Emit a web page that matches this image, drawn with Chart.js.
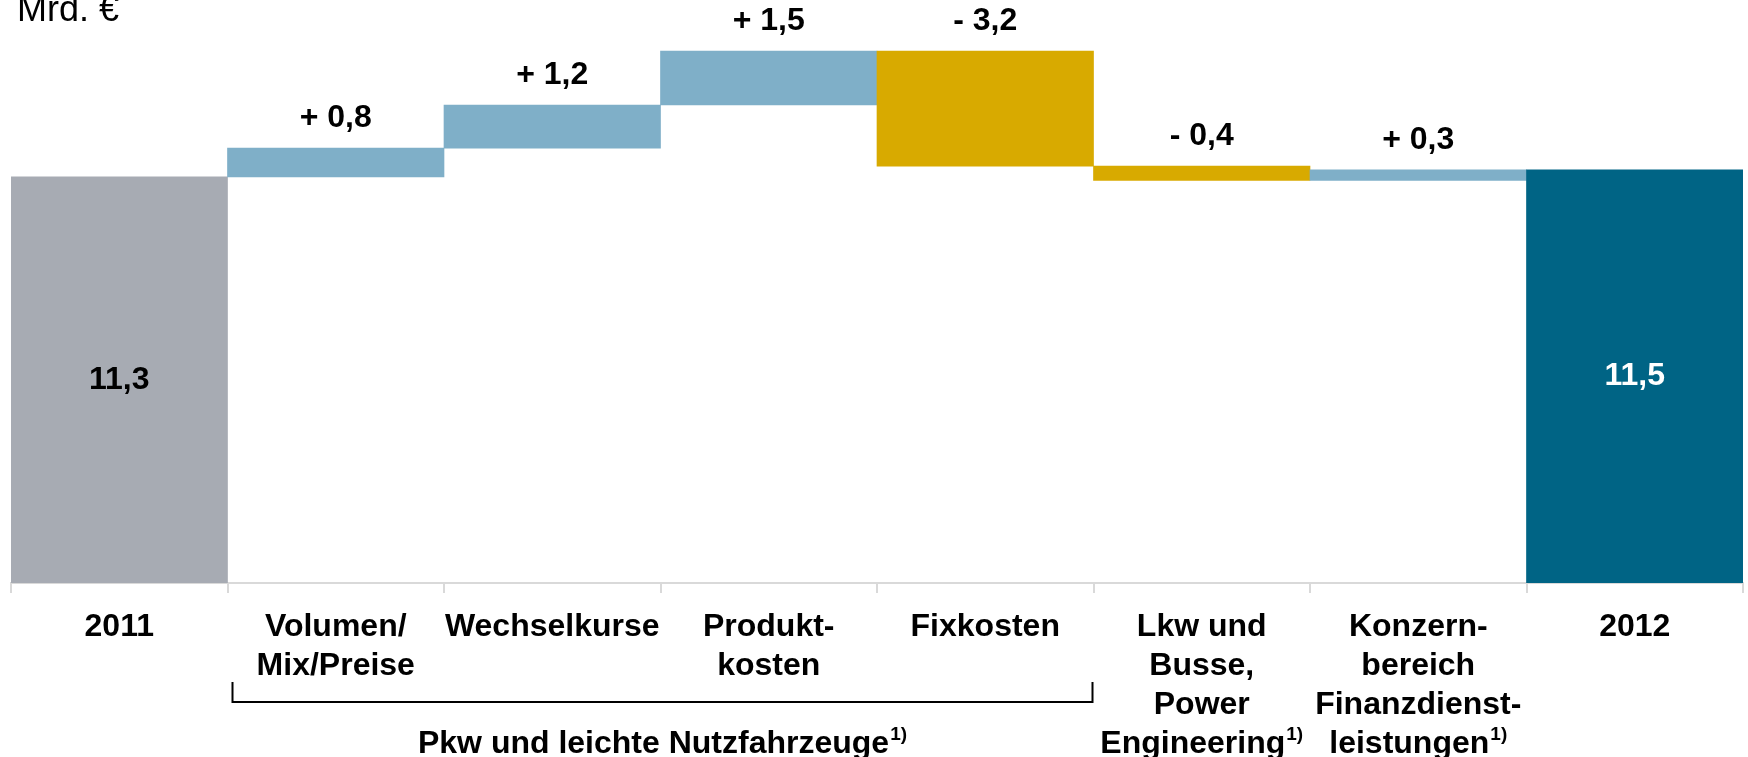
<!DOCTYPE html>
<html>
<head>
<meta charset="utf-8">
<script src="https://cdn.jsdelivr.net/npm/chart.js@4.4.1/dist/chart.umd.min.js"></script>
<style>
    html, body { margin: 0; padding: 0; background: #ffffff; }
    #wrap { width: 1748px; height: 757px; }
</style>
</head>
<body>
<div id="wrap"><canvas id="bridge-chart" width="1748" height="757"></canvas></div>
<script>
// categories (lines of each label; "^" marks a superscript)
const categories = [
    ['2011'],
    ['Volumen/', 'Mix/Preise'],
    ['Wechselkurse'],
    ['Produkt-', 'kosten'],
    ['Fixkosten'],
    ['Lkw und', 'Busse,', 'Power', 'Engineering^1)'],
    ['Konzern-', 'bereich', 'Finanzdienst-', 'leistungen^1)'],
    ['2012']
];
// value of each step in Mrd. €; first and last are totals
const values = [11.3, 0.8, 1.2, 1.5, -3.2, -0.4, 0.3, 11.5];
const isTotal = [true, false, false, false, false, false, false, true];
const groupLabel = 'Pkw und leichte Nutzfahrzeuge^1)';
const groupRange = [1, 4];
const unitLabel = 'Mrd. €';
const yMax = 16;

const FONT = "'Liberation Sans', Arial, sans-serif";
const colors = {
    start: '#a7abb3',
    end: '#006485',
    up: '#7fafc8',
    down: '#d8aa00'
};

// floating bars from running total
const ranges = [];
let running = 0;
values.forEach((v, i) => {
    if (isTotal[i]) {
        ranges.push([0, v]);
        running = v;
    } else {
        ranges.push([running, running + v]);
        running += v;
    }
});
const barColors = values.map((v, i) => {
    if (i === 0) return colors.start;
    if (isTotal[i]) return colors.end;
    return v >= 0 ? colors.up : colors.down;
});

function fmt(v, signed) {
    const s = Math.abs(v).toFixed(1).replace('.', ',');
    if (!signed) return s;
    return (v >= 0 ? '+ ' : '- ') + s;
}

// draw text with optional "^" superscript, centred on x
function drawSupText(ctx, text, x, y, size) {
    const parts = text.split('^');
    const main = parts[0];
    const sup = parts[1] || '';
    const supSize = Math.round(size * 0.6);
    ctx.font = `bold ${size}px ${FONT}`;
    const w1 = ctx.measureText(main).width;
    ctx.font = `bold ${supSize}px ${FONT}`;
    const w2 = sup ? ctx.measureText(sup).width + 1 : 0;
    const left = x - (w1 + w2) / 2;
    ctx.textAlign = 'left';
    ctx.textBaseline = 'middle';
    ctx.font = `bold ${size}px ${FONT}`;
    ctx.fillText(main, left, y);
    if (sup) {
        ctx.font = `bold ${supSize}px ${FONT}`;
        ctx.fillText(sup, left + w1 + 1, y - size * 0.3);
    }
}

const annotations = {
    id: 'annotations',
    afterDatasetsDraw(chart) {
        const { ctx } = chart;
        const xs = chart.scales.x;
        const ys = chart.scales.y;
        const meta = chart.getDatasetMeta(0);
        const half = (xs.getPixelForValue(1) - xs.getPixelForValue(0)) / 2;
        ctx.save();

        // value labels
        meta.data.forEach((bar, i) => {
            const cx = xs.getPixelForValue(i);
            ctx.font = `bold 32px ${FONT}`;
            ctx.textAlign = 'center';
            ctx.textBaseline = 'middle';
            if (isTotal[i]) {
                const mid = (ys.getPixelForValue(ranges[i][0]) + ys.getPixelForValue(ranges[i][1])) / 2;
                ctx.fillStyle = i === 0 ? '#000000' : '#ffffff';
                ctx.fillText(fmt(values[i], false), cx, mid);
            } else {
                const top = ys.getPixelForValue(Math.max(ranges[i][0], ranges[i][1]));
                ctx.fillStyle = '#000000';
                ctx.fillText(fmt(values[i], true), cx, top - 30);
            }
        });

        // category labels
        ctx.fillStyle = '#000000';
        const labelTop = chart.chartArea.bottom + 44;
        categories.forEach((lines, i) => {
            const cx = xs.getPixelForValue(i);
            lines.forEach((line, j) => {
                drawSupText(ctx, line, cx, labelTop + j * 39, 32);
            });
        });

        // bracket under the car group
        const bl = xs.getPixelForValue(groupRange[0]) - half + 5;
        const br = xs.getPixelForValue(groupRange[1]) + half - 1;
        const bTop = chart.chartArea.bottom + 99;
        const bBot = chart.chartArea.bottom + 119;
        ctx.strokeStyle = '#000000';
        ctx.lineWidth = 2;
        ctx.beginPath();
        ctx.moveTo(bl, bTop);
        ctx.lineTo(bl, bBot);
        ctx.lineTo(br, bBot);
        ctx.lineTo(br, bTop);
        ctx.stroke();
        drawSupText(ctx, groupLabel, (bl + br) / 2, labelTop + 3 * 39, 32);

        // unit
        ctx.font = `36px ${FONT}`;
        ctx.textAlign = 'left';
        ctx.textBaseline = 'alphabetic';
        ctx.fillText(unitLabel, 17, 21);
        ctx.restore();
    }
};

new Chart(document.getElementById('bridge-chart'), {
    type: 'bar',
    data: {
        labels: categories.map(c => c.join(' ')),
        datasets: [{
            data: ranges,
            backgroundColor: barColors,
            borderWidth: 0,
            barPercentage: 1,
            categoryPercentage: 1
        }]
    },
    options: {
        responsive: false,
        animation: false,
        devicePixelRatio: 1,
        layout: { padding: { top: 8, bottom: 164, left: 11, right: 5 } },
        plugins: {
            legend: { display: false },
            tooltip: { enabled: false }
        },
        scales: {
            x: {
                grid: {
                    offset: true,
                    drawOnChartArea: false,
                    drawTicks: true,
                    tickLength: 10,
                    color: '#d9d9d9',
                    lineWidth: 2
                },
                border: { display: true, color: '#d9d9d9', width: 2 },
                ticks: { display: false }
            },
            y: {
                display: false,
                min: 0,
                max: yMax
            }
        }
    },
    plugins: [annotations]
});
</script>
</body>
</html>
